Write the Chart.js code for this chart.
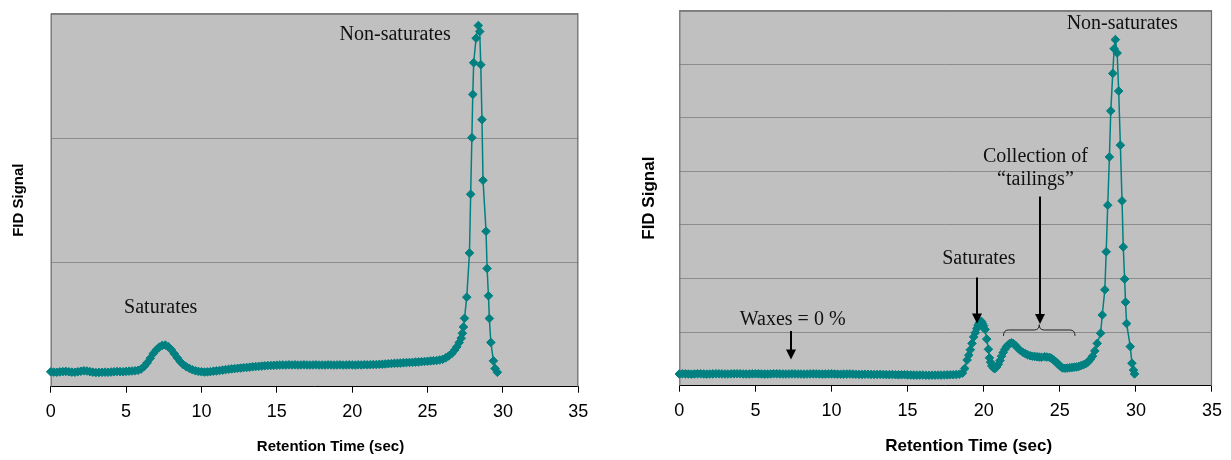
<!DOCTYPE html>
<html lang="en">

<head>
    <meta charset="UTF-8" />
    <title>FID chromatograms</title>
    <style>
        body {
            margin: 0;
            background: #fff;
        }

        .panel {
            position: absolute;
            top: 0;
        }
    </style>
</head>

<body>
    <div class="panel" style="left:0px"><canvas id="left" width="615" height="460"></canvas></div>
    <div class="panel" style="left:615px"><canvas id="right" width="616" height="460"></canvas></div>

    <script src="https://cdn.jsdelivr.net/npm/chart.js@4.4.0/dist/chart.umd.min.js"></script>
    <script>
        // x axis ticks (sec), shared by both panels
        const xTicks = [0, 5, 10, 15, 20, 25, 30, 35];

        // left panel: retention time (sec) and FID signal (arbitrary units, 0..3)
        const leftTime = [
            0, 0.2, 0.4, 0.6, 0.8, 1, 1.2, 1.4, 1.6, 1.8, 2, 2.2, 2.4, 2.6, 2.8,
            3, 3.2, 3.4, 3.6, 3.8, 4, 4.2, 4.4, 4.6, 4.8, 5, 5.2, 5.4, 5.6, 5.8,
            6, 6.2, 6.4, 6.6, 6.8, 7, 7.2, 7.4, 7.6, 7.8, 8, 8.2, 8.4, 8.6, 8.8,
            9, 9.2, 9.4, 9.6, 9.8, 10, 10.2, 10.4, 10.6, 10.8, 11, 11.2, 11.4, 11.6, 11.8,
            12, 12.2, 12.4, 12.6, 12.8, 13, 13.2, 13.4, 13.6, 13.8, 14, 14.2, 14.4, 14.6, 14.8,
            15, 15.2, 15.4, 15.6, 15.8, 16, 16.2, 16.4, 16.6, 16.8, 17, 17.2, 17.4, 17.6, 17.8,
            18, 18.2, 18.4, 18.6, 18.8, 19, 19.2, 19.4, 19.6, 19.8, 20, 20.2, 20.4, 20.6, 20.8,
            21, 21.2, 21.4, 21.6, 21.8, 22, 22.2, 22.4, 22.6, 22.8, 23, 23.2, 23.4, 23.6, 23.8,
            24, 24.2, 24.4, 24.6, 24.8, 25, 25.2, 25.4, 25.6, 25.8, 26, 26.2, 26.4, 26.6, 26.8,
            26.94, 27.1, 27.23, 27.31, 27.38, 27.45, 27.6, 27.78, 27.86, 27.94, 28.0, 28.06, 28.22, 28.37, 28.46,
            28.53, 28.61, 28.68, 28.88, 28.95, 29.04, 29.1, 29.2, 29.37, 29.48, 29.63
        ];
        const leftSignal = [
            0.120, 0.117, 0.116, 0.119, 0.121, 0.123, 0.120, 0.117, 0.116, 0.120, 0.124, 0.128, 0.126, 0.121, 0.117,
            0.114, 0.115, 0.116, 0.117, 0.116, 0.118, 0.120, 0.122, 0.121, 0.120, 0.123, 0.125, 0.126, 0.128, 0.132,
            0.142, 0.163, 0.192, 0.228, 0.266, 0.296, 0.318, 0.332, 0.335, 0.322, 0.298, 0.265, 0.232, 0.201, 0.177,
            0.160, 0.147, 0.136, 0.128, 0.123, 0.120, 0.118, 0.119, 0.121, 0.125, 0.127, 0.130, 0.133, 0.137, 0.140,
            0.143, 0.145, 0.148, 0.150, 0.153, 0.155, 0.157, 0.160, 0.162, 0.164, 0.166, 0.168, 0.170, 0.171, 0.172,
            0.173, 0.174, 0.175, 0.174, 0.176, 0.175, 0.176, 0.174, 0.175, 0.176, 0.175, 0.174, 0.175, 0.176, 0.174,
            0.175, 0.174, 0.176, 0.175, 0.174, 0.175, 0.176, 0.174, 0.175, 0.176, 0.175, 0.174, 0.176, 0.175, 0.177,
            0.176, 0.177, 0.178, 0.178, 0.180, 0.181, 0.183, 0.185, 0.186, 0.188, 0.189, 0.190, 0.192, 0.194, 0.195,
            0.196, 0.198, 0.199, 0.201, 0.203, 0.205, 0.207, 0.209, 0.211, 0.215, 0.220, 0.232, 0.247, 0.266, 0.295,
            0.320, 0.355, 0.390, 0.430, 0.480, 0.550, 0.720, 1.076, 1.548, 2.003, 2.351, 2.606, 2.803, 2.905, 2.857,
            2.590, 2.148, 1.660, 1.250, 0.951, 0.731, 0.549, 0.356, 0.208, 0.146, 0.116
        ];

        // right panel: retention time (sec) and FID signal (arbitrary units, 0..7)
        const rightTime = [
            0, 0.2, 0.4, 0.6, 0.8, 1, 1.2, 1.4, 1.6, 1.8, 2, 2.2, 2.4, 2.6, 2.8,
            3, 3.2, 3.4, 3.6, 3.8, 4, 4.2, 4.4, 4.6, 4.8, 5, 5.2, 5.4, 5.6, 5.8,
            6, 6.2, 6.4, 6.6, 6.8, 7, 7.2, 7.4, 7.6, 7.8, 8, 8.2, 8.4, 8.6, 8.8,
            9, 9.2, 9.4, 9.6, 9.8, 10, 10.2, 10.4, 10.6, 10.8, 11, 11.2, 11.4, 11.6, 11.8,
            12, 12.2, 12.4, 12.6, 12.8, 13, 13.2, 13.4, 13.6, 13.8, 14, 14.2, 14.4, 14.6, 14.8,
            15, 15.2, 15.4, 15.6, 15.8, 16, 16.2, 16.4, 16.6, 16.8, 17, 17.2, 17.4, 17.6, 17.8,
            18, 18.2, 18.4, 18.6, 18.75, 18.91, 19.02, 19.12, 19.23, 19.34, 19.45, 19.55, 19.63, 19.7, 19.78,
            19.85, 19.92, 19.99, 20.09, 20.2, 20.31, 20.38, 20.45, 20.53, 20.65, 20.74, 20.85, 20.96, 21.07, 21.17,
            21.28, 21.39, 21.5, 21.6, 21.72, 21.83, 21.95, 22.1, 22.25, 22.4, 22.59, 22.75, 22.9, 23.05, 23.2,
            23.35, 23.5, 23.65, 23.8, 24.0, 24.15, 24.32, 24.45, 24.6, 24.7, 24.8, 24.9, 25.0, 25.1, 25.19,
            25.35, 25.5, 25.65, 25.8, 25.95, 26.1, 26.25, 26.4, 26.55, 26.7, 26.85, 27.0, 27.15, 27.3, 27.46,
            27.68, 27.79, 27.96, 28.05, 28.15, 28.26, 28.35, 28.48, 28.57, 28.65, 28.77, 28.87, 28.98, 29.09, 29.17,
            29.26, 29.32, 29.39, 29.63, 29.74, 29.84, 29.91
        ];
        const rightSignal = [
            0.218, 0.222, 0.221, 0.218, 0.216, 0.219, 0.223, 0.222, 0.219, 0.217, 0.218, 0.220, 0.223, 0.222, 0.220,
            0.219, 0.218, 0.221, 0.223, 0.224, 0.222, 0.219, 0.218, 0.219, 0.221, 0.222, 0.221, 0.219, 0.217, 0.218,
            0.219, 0.222, 0.223, 0.221, 0.219, 0.218, 0.219, 0.221, 0.220, 0.219, 0.218, 0.216, 0.218, 0.220, 0.221,
            0.220, 0.218, 0.217, 0.218, 0.219, 0.220, 0.218, 0.216, 0.215, 0.216, 0.217, 0.219, 0.217, 0.214, 0.212,
            0.211, 0.214, 0.213, 0.210, 0.209, 0.210, 0.212, 0.209, 0.207, 0.206, 0.208, 0.205, 0.203, 0.204, 0.205,
            0.202, 0.200, 0.198, 0.197, 0.198, 0.199, 0.196, 0.195, 0.196, 0.197, 0.199, 0.198, 0.200, 0.202, 0.204,
            0.205, 0.208, 0.214, 0.235, 0.320, 0.480, 0.570, 0.670, 0.790, 0.910, 0.990, 1.070, 1.130, 1.170, 1.190,
            1.200, 1.160, 1.120, 1.050, 0.870, 0.680, 0.520, 0.440, 0.370, 0.330, 0.320, 0.350, 0.400, 0.470, 0.550,
            0.620, 0.680, 0.730, 0.760, 0.790, 0.800, 0.785, 0.750, 0.700, 0.660, 0.620, 0.595, 0.575, 0.560, 0.550,
            0.545, 0.540, 0.535, 0.530, 0.540, 0.535, 0.530, 0.510, 0.480, 0.455, 0.430, 0.400, 0.370, 0.350, 0.330,
            0.325, 0.330, 0.335, 0.340, 0.345, 0.350, 0.360, 0.375, 0.390, 0.410, 0.440, 0.490, 0.550, 0.650, 0.790,
            0.980, 1.320, 1.790, 2.500, 3.370, 4.270, 5.130, 5.830, 6.290, 6.460, 6.210, 5.500, 4.490, 3.450, 2.590,
            1.990, 1.560, 1.160, 0.730, 0.420, 0.290, 0.220
        ];

        // annotation texts, placed in data units
        const leftNotes = [
            { text: "Saturates", x: 7.3, y: 0.59 },
            { text: "Non-saturates", x: 22.85, y: 2.785 }
        ];
        const rightNotes = [
            { text: "Non-saturates", x: 29.1, y: 6.65 },
            { text: "Saturates", x: 19.68, y: 2.28 },
            { text: "Collection of", x: 23.4, y: 4.18 },
            { text: "\u201Ctailings\u201D", x: 23.4, y: 3.74 },
            { text: "Waxes = 0 %", x: 7.45, y: 1.13 }
        ];
        // arrows: x, start y, tip y
        const rightArrows = [
            { x: 7.31, from: 1.02, to: 0.49 },
            { x: 19.55, from: 2.02, to: 1.16 },
            { x: 23.67, from: 3.53, to: 1.15 }
        ];
        // curly brace under the tailings arrow
        const rightBraces = [
            { from: 21.3, to: 26.0, end: 0.93, mid: 1.04, tip: 1.14 }
        ];

        const teal = "#008080";
        const sans = '"Liberation Sans", Arial, sans-serif';
        const serif = '"Liberation Serif", "Times New Roman", serif';

        function framePlugin() {
            return {
                id: "frame",
                beforeDraw(chart) {
                    const { ctx, chartArea: a } = chart;
                    ctx.save();
                    ctx.fillStyle = "#c0c0c0";
                    ctx.fillRect(a.left, a.top, a.width, a.height);
                    ctx.restore();
                },
                beforeDatasetsDraw(chart) {
                    const { ctx, chartArea: a } = chart;
                    ctx.save();
                    ctx.strokeStyle = "#6e6e6e";
                    ctx.lineWidth = 1.2;
                    ctx.beginPath();
                    ctx.moveTo(a.left + 0.5, a.bottom);
                    ctx.lineTo(a.left + 0.5, a.top + 0.5);
                    ctx.lineTo(a.right - 0.5, a.top + 0.5);
                    ctx.lineTo(a.right - 0.5, a.bottom);
                    ctx.stroke();
                    ctx.restore();
                }
            };
        }

        function notesPlugin(notes, arrows, braces, xTitle) {
            return {
                id: "notes",
                afterDatasetsDraw(chart) {
                    const { ctx, chartArea: a } = chart;
                    const xs = chart.scales.x;
                    const ys = chart.scales.y;
                    ctx.save();
                    ctx.fillStyle = "#111";
                    ctx.font = "20px " + serif;
                    ctx.textAlign = "center";
                    ctx.textBaseline = "alphabetic";
                    notes.forEach(n => {
                        ctx.fillText(n.text, xs.getPixelForValue(n.x), ys.getPixelForValue(n.y));
                    });

                    ctx.strokeStyle = "#000";
                    ctx.fillStyle = "#000";
                    arrows.forEach(ar => {
                        const px = Math.round(xs.getPixelForValue(ar.x));
                        const y0 = ys.getPixelForValue(ar.from);
                        const y1 = ys.getPixelForValue(ar.to);
                        ctx.lineWidth = 2;
                        ctx.beginPath();
                        ctx.moveTo(px, y0);
                        ctx.lineTo(px, y1 - 8);
                        ctx.stroke();
                        ctx.beginPath();
                        ctx.moveTo(px - 5, y1 - 10);
                        ctx.lineTo(px + 5, y1 - 10);
                        ctx.lineTo(px, y1);
                        ctx.closePath();
                        ctx.fill();
                    });

                    braces.forEach(b => {
                        const x0 = xs.getPixelForValue(b.from);
                        const x1 = xs.getPixelForValue(b.to);
                        const xm = (x0 + x1) / 2;
                        const yEnd = ys.getPixelForValue(b.end);
                        const yMid = ys.getPixelForValue(b.mid);
                        const yTip = ys.getPixelForValue(b.tip);
                        const r = 5;
                        ctx.lineWidth = 1;
                        ctx.strokeStyle = "#222";
                        ctx.beginPath();
                        ctx.moveTo(x0, yEnd);
                        ctx.quadraticCurveTo(x0, yMid, x0 + r, yMid);
                        ctx.lineTo(xm - r, yMid);
                        ctx.quadraticCurveTo(xm, yMid, xm, yTip);
                        ctx.quadraticCurveTo(xm, yMid, xm + r, yMid);
                        ctx.lineTo(x1 - r, yMid);
                        ctx.quadraticCurveTo(x1, yMid, x1, yEnd);
                        ctx.stroke();
                    });

                    // x axis title, sits a little right of the plot centre
                    ctx.fillStyle = "#000";
                    ctx.font = "bold " + xTitle.size + "px " + sans;
                    ctx.textBaseline = "middle";
                    ctx.fillText("Retention Time (sec)", (a.left + a.right) / 2 + xTitle.shift, a.bottom + xTitle.drop);
                    ctx.restore();
                }
            };
        }

        function makeChart(id, time, signal, yMax, box, notes, arrows, braces) {
            const points = time.map((t, i) => ({ x: t, y: signal[i] }));

            return new Chart(id, {
                type: "scatter",
                data: {
                    datasets: [{
                        data: points,
                        showLine: true,
                        borderColor: teal,
                        borderWidth: 1.5,
                        backgroundColor: teal,
                        pointStyle: "rectRot",
                        pointRadius: 4.3,
                        pointBorderWidth: 1,
                        pointBorderColor: teal,
                        pointBackgroundColor: teal,
                        tension: 0,
                        clip: 12
                    }]
                },
                options: {
                    responsive: false,
                    animation: false,
                    events: [],
                    layout: {
                        padding: { top: box.top, right: box.right, left: 0, bottom: 0 }
                    },
                    plugins: {
                        legend: { display: false },
                        tooltip: { enabled: false }
                    },
                    scales: {
                        x: {
                            type: "linear",
                            min: 0,
                            max: 35,
                            afterBuildTicks: axis => {
                                axis.ticks = xTicks.map(v => ({ value: v }));
                            },
                            afterFit: axis => {
                                axis.height = box.xHeight;
                            },
                            grid: {
                                drawOnChartArea: false,
                                drawTicks: true,
                                tickLength: 6,
                                color: "#000"
                            },
                            border: { color: "#000", width: 1 },
                            ticks: {
                                color: "#000",
                                padding: 9,
                                maxRotation: 0,
                                font: { family: sans, size: 18 }
                            }
                        },
                        y: {
                            min: 0,
                            max: yMax,
                            ticks: { display: false, stepSize: 1 },
                            afterFit: axis => {
                                axis.width = box.yWidth;
                            },
                            grid: {
                                drawTicks: false,
                                color: "#8c8c8c",
                                lineWidth: 1
                            },
                            border: { display: false },
                            title: {
                                display: true,
                                text: "FID Signal",
                                color: "#000",
                                padding: { top: box.yTitlePad, bottom: 0 },
                                font: { family: sans, size: box.yTitleSize, weight: "bold" }
                            }
                        }
                    }
                },
                plugins: [framePlugin(), notesPlugin(notes, arrows, braces, box.xTitle)]
            });
        }

        makeChart("left", leftTime, leftSignal, 3, {
            top: 13.7, right: 36.7, yWidth: 50.7, xHeight: 73.3,
            yTitlePad: 9.5, yTitleSize: 15,
            xTitle: { size: 15, shift: 16, drop: 60 }
        }, leftNotes, [], []);

        makeChart("right", rightTime, rightSignal, 7, {
            top: 10.7, right: 13.3, yWidth: 64.3, xHeight: 74.3,
            yTitlePad: 23.8, yTitleSize: 17,
            xTitle: { size: 17, shift: 23, drop: 61 }
        }, rightNotes, rightArrows, rightBraces);
    </script>
</body>

</html>
